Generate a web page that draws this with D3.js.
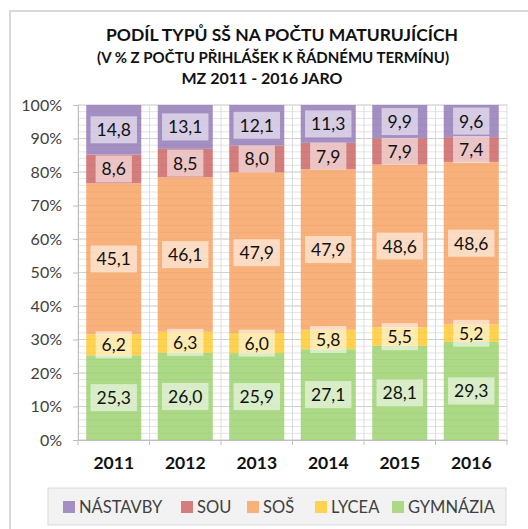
<!DOCTYPE html>
<html>
<head>
<meta charset="utf-8">
<script src="https://cdn.jsdelivr.net/npm/d3@7"></script>
<style>
  body { margin: 0; background: #fff; }
  svg { display: block; font-family: Lato, "Open Sans", sans-serif; }
</style>
</head>
<body>
<svg id="chart" width="528" height="529"></svg>
<script>
const years = ["2011", "2012", "2013", "2014", "2015", "2016"];
const series = ["GYMNÁZIA", "LYCEA", "SOŠ", "SOU", "NÁSTAVBY"];
const gymnazia = [25.3, 26.0, 25.9, 27.1, 28.1, 29.3];
const lycea = [6.2, 6.3, 6.0, 5.8, 5.5, 5.2];
const sos = [45.1, 46.1, 47.9, 47.9, 48.6, 48.6];
const sou = [8.6, 8.5, 8.0, 7.9, 7.9, 7.4];
const nastavby = [14.8, 13.1, 12.1, 11.3, 9.9, 9.6];
const yTicks = [0, 10, 20, 30, 40, 50, 60, 70, 80, 90, 100];
const titleLines = ["PODÍL TYPŮ SŠ NA POČTU MATURUJÍCÍCH", "(V % Z POČTU PŘIHLÁŠEK K ŘÁDNÉMU TERMÍNU)", "MZ 2011 - 2016 JARO"];
const legendOrder = ["NÁSTAVBY", "SOU", "SOŠ", "LYCEA", "GYMNÁZIA"];

const colors = {
    "GYMNÁZIA": "#acd986",
    "LYCEA": "#ffd24f",
    "SOŠ": "#f8b17b",
    "SOU": "#d47d7d",
    "NÁSTAVBY": "#a48fc3"
};
const values = { "GYMNÁZIA": gymnazia, "LYCEA": lycea, "SOŠ": sos, "SOU": sou, "NÁSTAVBY": nastavby };

const rows = years.map((yr, i) => {
    const r = { year: yr };
    series.forEach(s => r[s] = values[s][i]);
    return r;
});

const svg = d3.select("#chart");

// chart frame
svg.append("rect")
    .attr("x", 10).attr("y", 11)
    .attr("width", 540).attr("height", 540)
    .attr("fill", "#fff")
    .attr("stroke", "#d9d9d9")
    .attr("stroke-width", 2);

// title
const titleSizes = [17.5, 15, 16];
const titleY = [41, 63, 84];
const titleX = [282, 273, 262];
titleLines.forEach((t, i) => {
    svg.append("text")
        .attr("x", titleX[i]).attr("y", titleY[i])
        .attr("text-anchor", "middle")
        .attr("font-weight", "bold")
        .attr("font-size", titleSizes[i])
        .attr("fill", "#111")
        .text(t);
});

const plotLeft = 78, plotRight = 507, plotTop = 105, plotBottom = 440;

const x = d3.scaleBand()
    .domain(years)
    .range([plotLeft, plotRight])
    .paddingInner(0.23)
    .paddingOuter(0.115);

const y = d3.scaleLinear()
    .domain([0, 100])
    .range([plotBottom, plotTop]);

// minor horizontal grid
const minor = d3.range(0, 101, 2);
svg.append("g")
    .selectAll("line")
    .data(minor)
    .enter()
    .append("line")
    .attr("x1", plotLeft).attr("x2", plotRight)
    .attr("y1", d => y(d)).attr("y2", d => y(d))
    .attr("stroke", "#ececec")
    .attr("stroke-width", 1);

// vertical grid at category boundaries
const bounds = d3.range(0, years.length + 1).map(i => plotLeft + i * (plotRight - plotLeft) / years.length);
svg.append("g")
    .selectAll("line")
    .data(bounds)
    .enter()
    .append("line")
    .attr("x1", d => d).attr("x2", d => d)
    .attr("y1", plotTop).attr("y2", plotBottom)
    .attr("stroke", "#dedede");

// major horizontal grid
svg.append("g")
    .selectAll("line")
    .data(yTicks)
    .enter()
    .append("line")
    .attr("x1", plotLeft).attr("x2", plotRight)
    .attr("y1", d => y(d)).attr("y2", d => y(d))
    .attr("stroke", "#d9d9d9");

const stack = d3.stack()
    .keys(series)
    .offset(d3.stackOffsetExpand);
const stacked = stack(rows);

const layers = svg.append("g")
    .selectAll("g")
    .data(stacked)
    .enter()
    .append("g")
    .attr("fill", d => colors[d.key]);

layers.selectAll("rect")
    .data(d => d)
    .enter()
    .append("rect")
    .attr("x", d => x(d.data.year))
    .attr("width", x.bandwidth())
    .attr("y", d => y(d[1] * 100))
    .attr("height", d => y(d[0] * 100) - y(d[1] * 100));

// faint minor grid over bars
svg.append("g")
    .selectAll("line")
    .data(minor)
    .enter()
    .append("line")
    .attr("x1", plotLeft).attr("x2", plotRight)
    .attr("y1", d => y(d)).attr("y2", d => y(d))
    .attr("stroke", "#000")
    .attr("stroke-opacity", 0.035);

// data labels
const fmt = v => d3.format(".1f")(v).replace(".", ",");
stacked.forEach(layer => {
    layer.forEach(d => {
        const cx = x(d.data.year) + x.bandwidth() / 2;
        const cy = y((d[0] + d[1]) / 2 * 100);
        const label = fmt(d.data[layer.key]);
        const g = svg.append("g");
        const t = g.append("text")
            .attr("x", cx).attr("y", cy)
            .attr("text-anchor", "middle")
            .attr("dominant-baseline", "central")
            .attr("font-size", 17.5)
            .attr("fill", "#111")
            .text(label);
        const bb = t.node().getBBox();
        g.insert("rect", "text")
            .attr("x", cx - bb.width / 2 - 6)
            .attr("y", cy - 13.5)
            .attr("width", bb.width + 12)
            .attr("height", 27)
            .attr("fill", "#fff")
            .attr("fill-opacity", 0.55);
    });
});

// y axis
svg.append("g")
    .attr("transform", `translate(${plotLeft},0)`)
    .call(d3.axisLeft(y).tickValues(yTicks).tickSize(5).tickPadding(11).tickFormat(d => d + "%"))
    .call(g => g.select(".domain").attr("stroke", "#bfbfbf"))
    .call(g => g.selectAll(".tick line").attr("stroke", "#bfbfbf"))
    .call(g => g.selectAll("text").attr("font-size", 16).attr("fill", "#404040").attr("font-family", "Lato, sans-serif"));

// x axis
svg.append("g")
    .attr("transform", `translate(0,${plotBottom})`)
    .call(d3.axisBottom(x).tickSize(0).tickPadding(17))
    .call(g => g.select(".domain").attr("stroke", "#bfbfbf"))
    .call(g => g.selectAll("text").attr("font-size", 17.5).attr("font-weight", "bold").attr("fill", "#111").attr("font-family", "Lato, sans-serif"));

svg.append("g")
    .selectAll("line")
    .data(bounds)
    .enter()
    .append("line")
    .attr("x1", d => d).attr("x2", d => d)
    .attr("y1", plotBottom).attr("y2", plotBottom + 5)
    .attr("stroke", "#bfbfbf");

// legend
svg.append("rect")
    .attr("x", 48).attr("y", 488)
    .attr("width", 458).attr("height", 37)
    .attr("fill", "#f2f2f2")
    .attr("stroke", "#d9d9d9");

const legendX = [63, 181, 247, 315, 392];
const legend = svg.append("g")
    .selectAll("g")
    .data(legendOrder)
    .enter()
    .append("g")
    .attr("transform", (d, i) => `translate(${legendX[i]},507)`);

legend.append("rect")
    .attr("x", 0).attr("y", -6)
    .attr("width", 12).attr("height", 12)
    .attr("fill", d => colors[d]);

legend.append("text")
    .attr("x", 16).attr("y", 0)
    .attr("dominant-baseline", "central")
    .attr("font-size", 16.5)
    .attr("fill", "#404040")
    .text(d => d);
</script>
</body>
</html>
